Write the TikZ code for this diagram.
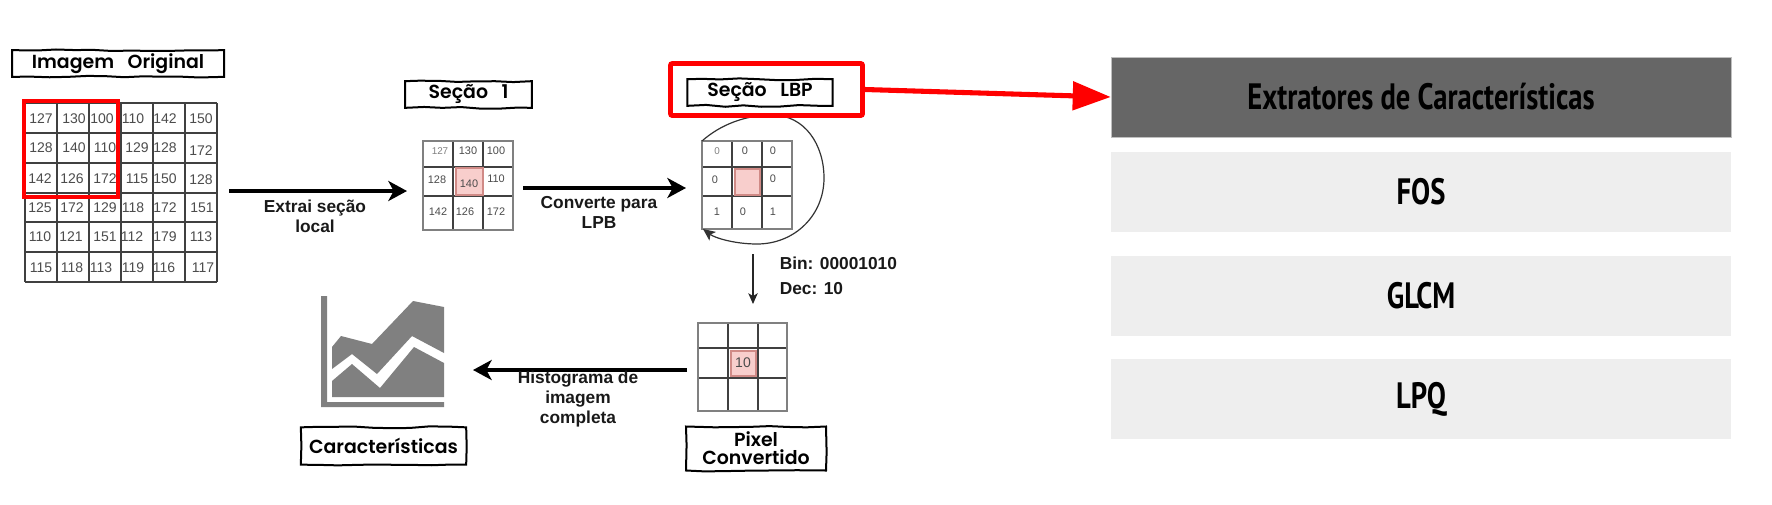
\documentclass[tikz,border=0pt]{standalone}
\usepackage{fontspec}
\setmainfont{Liberation Sans}
\newfontfamily\sketchfont{Poppins}[UprightFont=* SemiBold,WordSpace=3]
\newfontfamily\condfont{PT Sans}[UprightFont=* Bold,FakeStretch=0.78]
\usetikzlibrary{arrows.meta,decorations.pathmorphing,calc}
\definecolor{pinkfill}{HTML}{F8CECC}
\definecolor{pinkline}{HTML}{D08A86}
\definecolor{headfill}{HTML}{666666}
\definecolor{rowfill}{HTML}{EEEEEE}
\tikzset{
  x=0.75pt,y=-0.75pt,
  sketchbox/.style={draw=black,line width=1.5pt,fill=white,inner sep=0pt,
    decorate,decoration={random steps,segment length=14pt,amplitude=0.7pt},
    font=\sketchfont\fontsize{14.2pt}{13.5pt}\selectfont,align=center},
  biglabel/.style={font=\fontsize{10.5pt}{12pt}\selectfont,text=black!70,inner sep=0pt},
  midlabel/.style={font=\fontsize{8.2pt}{10pt}\selectfont,text=black!70,inner sep=0pt},
  smalllabel/.style={font=\fontsize{7.4pt}{10pt}\selectfont,text=black!50,inner sep=0pt},
  steptext/.style={font=\bfseries\fontsize{13pt}{15pt}\selectfont,align=center,text=black!90,inner sep=0pt},
  flowarrow/.style={line width=3pt,black,-{Stealth[length=14pt,width=15pt,inset=4pt]}},
  gridthin/.style={draw=black!75,line width=1pt},
  gridouter/.style={draw=black!50,line width=1.6pt},
  pinkcell/.style={fill=pinkfill,draw=pinkline,line width=1.5pt},
  rowbox/.style={minimum width=465pt,minimum height=60pt,inner sep=0pt,fill=rowfill,
    font=\condfont\fontsize{27.5pt}{30pt}\selectfont,text=black},
  headbox/.style={rowbox,fill=headfill,draw=black!25,line width=0.4pt},
}
\begin{document}
\begin{tikzpicture}
\useasboundingbox (0,0) rectangle (1772,504);
\fill[white] (0,0) rectangle (1772,504);
\pgfmathsetseed{7}

% original image grid
\foreach \gx in {25,57,89,121,153,185,217} \draw[gridthin] (\gx,103) -- (\gx,282);
\foreach \gy in {103,133,163,193,222,252,282} \draw[gridthin] (25,\gy) -- (217,\gy);
\foreach \tx/\ty/\val [count=\i] in {
 41/119/127,74/119/130,102/119/100,133/119/110,165/119/142,201/119/150,
 41/148/128,74/148/140,105/148/110,137/148/129,165/148/128,201/151/172,
 40/179/142,72/179/126,105/179/172,137/179/115,165/179/150,201/180/128,
 40/208/125,72/208/172,105/208/129,133/208/118,165/208/172,202/208/151,
 40/237/110,71/237/121,105/237/151,132/237/112,165/237/179,201/237/113,
 41/268/115,72/268/118,101/268/113,133/268/119,164/268/116,203/268/117}
  \node[biglabel] (orig\i) at (\tx,\ty) {\val};
\draw[red,line width=3pt] (24,101) rectangle (118,197);
\node[sketchbox,minimum width=159pt,minimum height=20pt] (titleOrig) at (118,63.5) {Imagem Original};

% section 1 grid
\fill[pinkfill] (456,168) rectangle (483,195);
\foreach \gx in {453,483} \draw[gridthin] (\gx,141) -- (\gx,230);
\foreach \gy in {167,196} \draw[gridthin] (423,\gy) -- (513,\gy);
\draw[pinkcell] (456,168) rectangle (483,195);
\draw[gridouter] (423,141) rectangle (513,230);
\node[smalllabel] (secA) at (440,151) {127};
\foreach \tx/\ty/\val [count=\i] in {468/151/130,496/151/100,437/180/128,469/184/140,496/179/110,438/212/142,465/212/126,496/212/172}
  \node[midlabel] (sec\i) at (\tx,\ty) {\val};
\node[sketchbox,minimum width=95pt,minimum height=20pt] (titleSec) at (468.5,94.5) {Seção 1};

% LBP grid
\foreach \gx in {732,762} \draw[gridthin] (\gx,141) -- (\gx,229);
\foreach \gy in {167,196} \draw[gridthin] (702,\gy) -- (792,\gy);
\draw[pinkcell] (735,169) rectangle (760,195);
\draw[gridouter] (702,141) rectangle (792,229);
\node[smalllabel] (lbpA) at (717,151) {0};
\foreach \tx/\ty/\val [count=\i] in {745/151/0,773/151/0,715/180/0,773/179/0,717/212/1,743/212/0,773/212/1}
  \node[midlabel] (lbp\i) at (\tx,\ty) {\val};
\coordinate (lbpNW) at (702,141);
\coordinate (lbpSW) at (703,229);
\draw[black!80,line width=0.9pt,-{Stealth[length=9pt,width=8pt,inset=2pt]}]
  (lbpNW) .. controls (720,125) and (745,115) .. (772,115)
  .. controls (805,115) and (824,145) .. (824,178)
  .. controls (824,215) and (795,244) .. (757,244)
  .. controls (735,244) and (715,238) .. (lbpSW);
\node[sketchbox,minimum width=109pt,minimum height=20pt] (titleLbp) at (760,92.5) {Seção LBP};
\node[draw=red,line width=3.7pt,rounded corners=1.5pt,minimum width=144pt,minimum height=39pt,inner sep=0pt] (frame) at (766.5,89.5) {};

% converted pixel grid
\foreach \gx in {728,758} \draw[gridthin] (\gx,323) -- (\gx,411);
\foreach \gy in {348,378} \draw[gridthin] (698,\gy) -- (787,\gy);
\draw[pinkcell] (731,351) rectangle (756,376);
\draw[gridouter] (698,323) rectangle (787,411);
\node[font=\fontsize{10.5pt}{12pt}\selectfont,text=black!70,inner sep=0pt] (ten) at (743,363) {10};

% chart
\fill[black!50] (321,296) -- (327,296) -- (327,402) -- (444,402) -- (444,407) -- (321,407) -- cycle;
\fill[black!50] (332,347) -- (341,336) -- (372,344) -- (413,301) -- (444,307) -- (444,353) -- (412,336) -- (377,374) -- (352,354) -- (332,369) -- cycle;
\fill[black!50] (332,381) -- (352,364) -- (380,388) -- (414,347) -- (444,363) -- (444,397) -- (332,397) -- cycle;

\node[sketchbox,minimum width=124pt,minimum height=28pt] (titleCar) at (383.5,446) {Características};
\node[sketchbox,minimum width=105pt,minimum height=33pt] (titlePix) at (756,448.5) {Pixel\\Convertido};

% flow arrows
\coordinate (a1s) at (229,191); \coordinate (a1e) at (407,191);
\coordinate (a2s) at (523,188); \coordinate (a2e) at (686,188);
\coordinate (a3s) at (753,254); \coordinate (a3e) at (753,304);
\coordinate (a4s) at (687,370); \coordinate (a4e) at (473,370);
\draw[flowarrow] (a1s) -- (a1e);
\draw[flowarrow] (a2s) -- (a2e);
\draw[flowarrow] (a4s) -- (a4e);
\draw[black!85,line width=1pt,-{Stealth[length=8pt,width=7pt,inset=2pt]}] (a3s) -- (a3e);

\node[steptext] (lab1) at (315,216) {Extrai seção\\local};
\node[steptext] (lab2) at (599,212.5) {Converte para\\LPB};
\node[steptext] (lab3) at (578,399) {Histograma de\\imagem\\completa};
\node[steptext,anchor=west] (bin) at (779.5,263) {Bin: 00001010};
\node[steptext,anchor=west] (dec) at (779.5,289) {Dec: 10};

% right table
\node[headbox] (head) at (1421,97) {Extratores de Características};
\node[rowbox] (fos) at (1421,192) {FOS};
\node[rowbox] (glcm) at (1421,296) {GLCM};
\node[rowbox] (lpq) at (1421,399) {LPQ};

\draw[red,line width=3.8pt,-{Triangle[length=28.5pt,width=21pt]}] (frame.east) -- (head.west);
\end{tikzpicture}
\end{document}
